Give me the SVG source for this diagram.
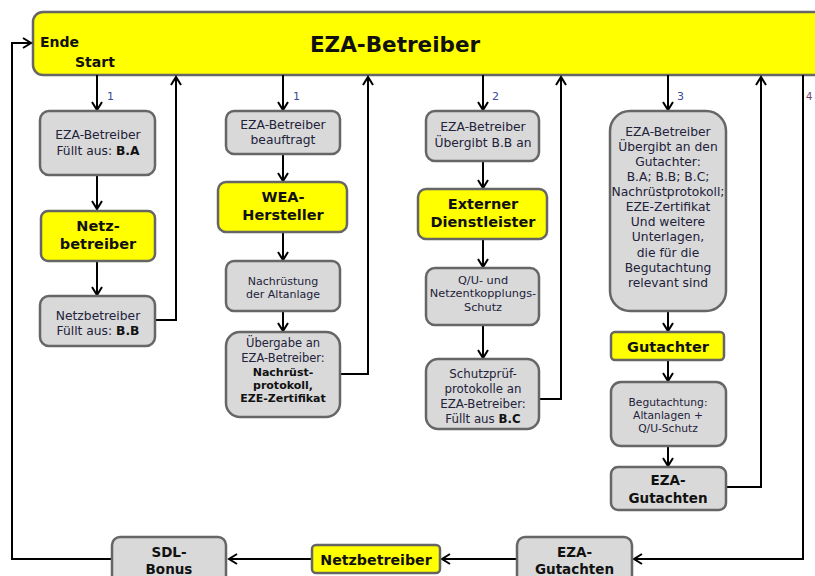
<svg xmlns="http://www.w3.org/2000/svg" width="815" height="576" viewBox="0 0 815 576">
<defs>
<marker id="arr" viewBox="-10 -8 12 16" refX="0" refY="0" markerWidth="12" markerHeight="16" markerUnits="userSpaceOnUse" orient="auto">
<path d="M-8,-5 L0,0 L-8,5" fill="none" stroke="#000" stroke-width="2"/>
</marker>
<style>
text{font-family:"DejaVu Sans","Verdana",sans-serif;text-anchor:middle}
.g{fill:#d9d9d9;stroke:#666;stroke-width:2.5}
.y{fill:#ffff00;stroke:#666;stroke-width:2.5}
.t{font-size:12.3px;fill:#22223a}
.s{font-size:11px;fill:#22223a}
.yb{font-size:14.5px;font-weight:bold;fill:#111}
.b{font-weight:bold;fill:#111}
.n{font-size:11px;fill:#3a4a9a;text-anchor:start}
.c{fill:none;stroke:#000;stroke-width:2}
</style>
</defs>
<rect width="815" height="576" fill="#fff"/>
<g id="top">
<rect class="y" x="33" y="12" width="820" height="63" rx="10"/>
<text x="395" y="52" style="font-size:21.5px;font-weight:bold;fill:#111">EZA-Betreiber</text>
<text x="40" y="47" style="font-size:14px;font-weight:bold;fill:#111;text-anchor:start">Ende</text>
<text x="75" y="67" style="font-size:14px;font-weight:bold;fill:#111;text-anchor:start">Start</text>
</g>
<g id="connectors">
<path class="c" d="M97 75 V110" marker-end="url(#arr)"/>
<path class="c" d="M97 175 V209" marker-end="url(#arr)"/>
<path class="c" d="M97 261 V295" marker-end="url(#arr)"/>
<path class="c" d="M155 320 H176 V77" marker-end="url(#arr)"/>
<path class="c" d="M283 75 V110" marker-end="url(#arr)"/>
<path class="c" d="M283 154 V181" marker-end="url(#arr)"/>
<path class="c" d="M283 232 V260" marker-end="url(#arr)"/>
<path class="c" d="M283 311 V331" marker-end="url(#arr)"/>
<path class="c" d="M340 374 H368 V77" marker-end="url(#arr)"/>
<path class="c" d="M483 75 V110" marker-end="url(#arr)"/>
<path class="c" d="M483 161 V188" marker-end="url(#arr)"/>
<path class="c" d="M483 239 V267" marker-end="url(#arr)"/>
<path class="c" d="M483 325 V358" marker-end="url(#arr)"/>
<path class="c" d="M539 399 H561 V77" marker-end="url(#arr)"/>
<path class="c" d="M668 75 V110" marker-end="url(#arr)"/>
<path class="c" d="M668 311 V331" marker-end="url(#arr)"/>
<path class="c" d="M668 360 V381" marker-end="url(#arr)"/>
<path class="c" d="M668 446 V466" marker-end="url(#arr)"/>
<path class="c" d="M726 487 H761 V77" marker-end="url(#arr)"/>
<path class="c" d="M803 75 V559 H634" marker-end="url(#arr)"/>
<path class="c" d="M517 559 H442" marker-end="url(#arr)"/>
<path class="c" d="M312 559 H229" marker-end="url(#arr)"/>
<path class="c" d="M112 559 H12 V43 H31" marker-end="url(#arr)"/>
<text class="n" x="107" y="100">1</text>
<text class="n" x="293" y="100">1</text>
<text class="n" x="492" y="100">2</text>
<text class="n" x="677" y="100">3</text>
<text class="n" x="806" y="100" style="fill:#7a3a6a;font-size:10px">4</text>
</g>
<g id="c1-eza">
<rect class="g" x="40" y="111" width="115" height="64" rx="9"/>
<text class="t" x="98" y="139">EZA-Betreiber</text>
<text class="t" x="98" y="155">Füllt aus: <tspan class="b">B.A</tspan></text>
</g>
<g id="c1-netz">
<rect class="y" x="41" y="211" width="114" height="50" rx="7"/>
<text class="yb" x="98" y="231">Netz-</text>
<text class="yb" x="98" y="249">betreiber</text>
</g>
<g id="c1-nb">
<rect class="g" x="40" y="296" width="115" height="50" rx="9"/>
<text class="t" x="98" y="320">Netzbetreiber</text>
<text class="t" x="98" y="335">Füllt aus: <tspan class="b">B.B</tspan></text>
</g>
<g id="c2-eza">
<rect class="g" x="226" y="111" width="114" height="43" rx="8"/>
<text class="t" x="283" y="129">EZA-Betreiber</text>
<text class="t" x="283" y="144">beauftragt</text>
</g>
<g id="c2-wea">
<rect class="y" x="218" y="182" width="129" height="50" rx="8"/>
<text class="yb" x="283" y="202">WEA-</text>
<text class="yb" x="283" y="220">Hersteller</text>
</g>
<g id="c2-nach">
<rect class="g" x="226" y="261" width="114" height="50" rx="8"/>
<text class="s" x="283" y="285">Nachrüstung</text>
<text class="s" x="283" y="298">der Altanlage</text>
</g>
<g id="c2-ueb">
<rect class="g" x="226" y="332" width="114" height="85" rx="14"/>
<text class="s" x="283" y="347" style="font-size:11.5px">Übergabe an</text>
<text class="s" x="283" y="362" style="font-size:11.5px">EZA-Betreiber:</text>
<text class="b" x="283" y="376" style="font-size:11px">Nachrüst-</text>
<text class="b" x="283" y="389" style="font-size:11px">protokoll,</text>
<text class="b" x="283" y="402" style="font-size:11px">EZE-Zertifikat</text>
</g>
<g id="c3-eza">
<rect class="g" x="426" y="111" width="113" height="50" rx="9"/>
<text class="t" x="483" y="131">EZA-Betreiber</text>
<text class="t" x="483" y="147">Übergibt B.B an</text>
</g>
<g id="c3-ext">
<rect class="y" x="418" y="189" width="129" height="50" rx="8"/>
<text class="yb" x="483" y="209">Externer</text>
<text class="yb" x="483" y="227">Dienstleister</text>
</g>
<g id="c3-qu">
<rect class="g" x="426" y="268" width="113" height="57" rx="9"/>
<text class="s" x="483" y="284" style="font-size:11.3px">Q/U- und</text>
<text class="s" x="483" y="297" style="font-size:11.3px">Netzentkopplungs-</text>
<text class="s" x="483" y="311" style="font-size:11.3px">Schutz</text>
</g>
<g id="c3-sch">
<rect class="g" x="426" y="359" width="113" height="70" rx="12"/>
<text class="t" x="483" y="378" style="font-size:11.8px">Schutzprüf-</text>
<text class="t" x="483" y="393" style="font-size:11.8px">protokolle an</text>
<text class="t" x="483" y="408" style="font-size:11.8px">EZA-Betreiber:</text>
<text class="t" x="483" y="423" style="font-size:11.8px">Füllt aus <tspan class="b">B.C</tspan></text>
</g>
<g id="c4-eza">
<rect class="g" x="610" y="111" width="116" height="200" rx="20"/>
<text class="t" x="668" y="136">EZA-Betreiber</text>
<text class="t" x="668" y="151">Übergibt an den</text>
<text class="t" x="668" y="166">Gutachter:</text>
<text class="t" x="668" y="181">B.A; B.B; B.C;</text>
<text class="t" x="668" y="196">Nachrüstprotokoll;</text>
<text class="t" x="668" y="211">EZE-Zertifikat</text>
<text class="t" x="668" y="226">Und weitere</text>
<text class="t" x="668" y="241">Unterlagen,</text>
<text class="t" x="668" y="257">die für die</text>
<text class="t" x="668" y="272">Begutachtung</text>
<text class="t" x="668" y="287">relevant sind</text>
</g>
<g id="c4-gut">
<rect class="y" x="611" y="332" width="113" height="28" rx="4"/>
<text class="yb" x="668" y="352">Gutachter</text>
</g>
<g id="c4-beg">
<rect class="g" x="611" y="382" width="115" height="64" rx="10"/>
<text class="s" x="668" y="406" style="font-size:10.7px">Begutachtung:</text>
<text class="s" x="668" y="419" style="font-size:10.7px">Altanlagen +</text>
<text class="s" x="668" y="432" style="font-size:10.7px">Q/U-Schutz</text>
</g>
<g id="c4-gutachten">
<rect class="g" x="611" y="467" width="115" height="43" rx="7"/>
<text class="b" x="668" y="485" style="font-size:13.5px">EZA-</text>
<text class="b" x="668" y="503" style="font-size:13.5px">Gutachten</text>
</g>
<g id="b-eza">
<rect class="g" x="517" y="537" width="115" height="55" rx="8"/>
<text class="b" x="574.5" y="557" style="font-size:13.5px">EZA-</text>
<text class="b" x="574.5" y="574" style="font-size:13.5px">Gutachten</text>
</g>
<g id="b-netz">
<rect class="y" x="312" y="545" width="128" height="28" rx="4"/>
<text class="yb" x="376" y="565" style="font-size:14.2px">Netzbetreiber</text>
</g>
<g id="b-sdl">
<rect class="g" x="112" y="537" width="114" height="55" rx="8"/>
<text class="b" x="169" y="557" style="font-size:13.5px">SDL-</text>
<text class="b" x="169" y="574" style="font-size:13.5px">Bonus</text>
</g>
</svg>
